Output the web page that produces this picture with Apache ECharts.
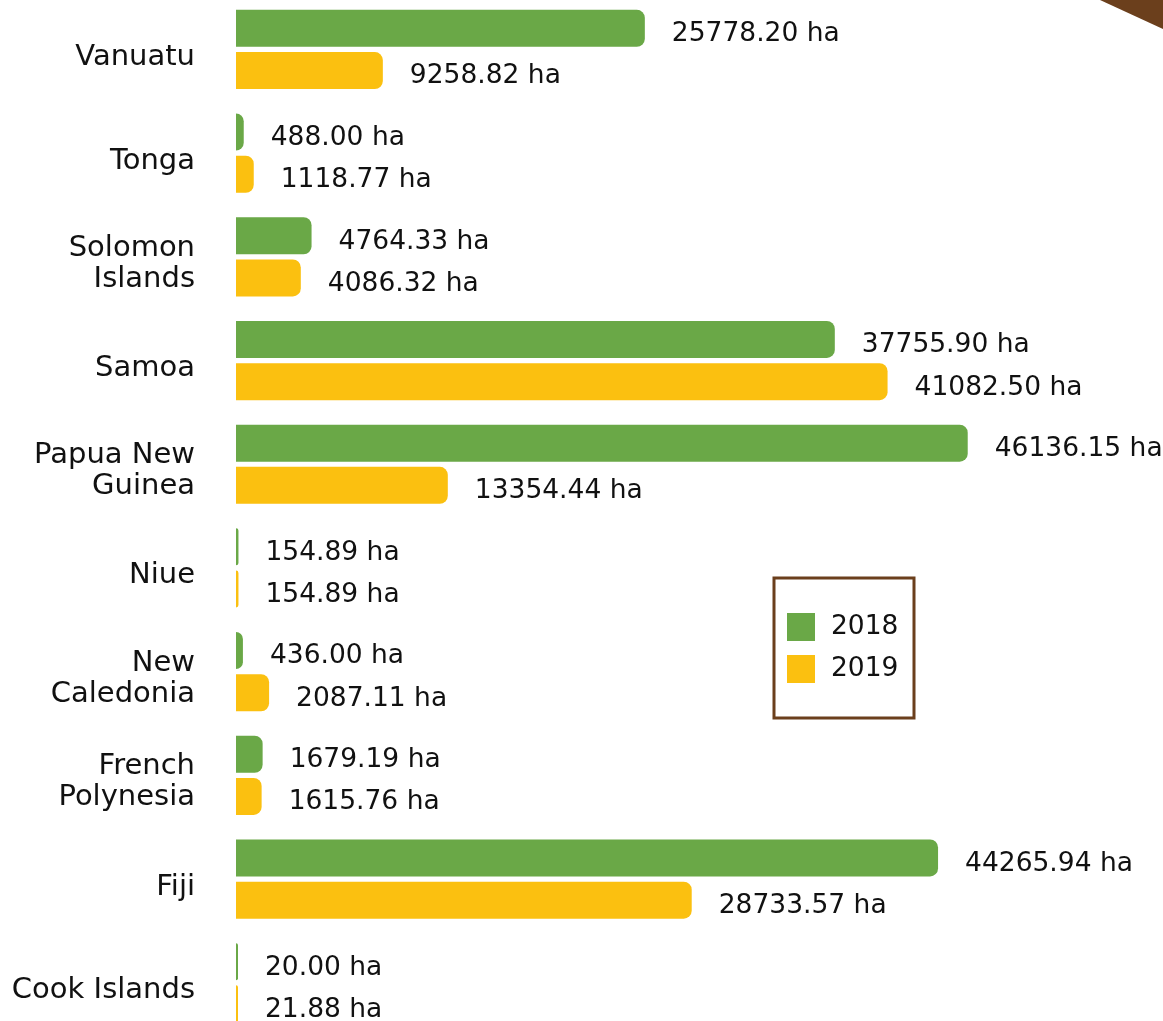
<!DOCTYPE html>
<html>
<head>
<meta charset="utf-8">
<script src="https://cdn.jsdelivr.net/npm/echarts@6/dist/echarts.min.js"></script>
<style>
  html, body { margin: 0; padding: 0; background: #fff; overflow: hidden; }
  #chart { width: 1163px; height: 1021px; }
</style>
</head>
<body>
<div id="chart"></div>
<script>
  // top to bottom
  var countries = ['Vanuatu', 'Tonga', 'Solomon\nIslands', 'Samoa', 'Papua New\nGuinea', 'Niue', 'New\nCaledonia', 'French\nPolynesia', 'Fiji', 'Cook Islands']
  var area2018 = [25778.20, 488.00, 4764.33, 37755.90, 46136.15, 154.89, 436.00, 1679.19, 44265.94, 20.00]
  var area2019 = [9258.82, 1118.77, 4086.32, 41082.50, 13354.44, 154.89, 2087.11, 1615.76, 28733.57, 21.88]
  var years = ['2018', '2019']

  var chart = echarts.init(document.getElementById('chart'))
  var font = '"DejaVu Sans", sans-serif'
  var barLabel = {
    show: true,
    position: 'right',
    distance: 27,
    offset: [0, 6],
    color: '#111',
    fontSize: 26.5,
    fontFamily: font,
    formatter: function (p) { return p.value.toFixed(2) + ' ha' }
  }
  var catText = { color: '#111', fontSize: 29, fontFamily: font }

  chart.setOption({
    animation: false,
    grid: {
      left: 236,
      top: -2.4,
      width: 793,
      height: 1037,
      outerBoundsMode: 'none'
    },
    legend: {
      data: years,
      orient: 'vertical',
      left: 787,
      top: 613,
      padding: 0,
      itemWidth: 28,
      itemHeight: 28,
      itemGap: 14,
      icon: 'rect',
      textStyle: {
        fontSize: 26.5,
        fontFamily: font,
        color: '#111',
        padding: [0, 0, 0, 11]
      }
    },
    xAxis: {
      type: 'value',
      min: 0,
      max: 50000,
      show: false
    },
    yAxis: {
      type: 'category',
      inverse: true,
      data: countries,
      axisLine: { show: false },
      axisTick: { show: false },
      axisLabel: {
        margin: 41,
        formatter: function (v) {
          var lines = v.split('\n')
          return lines.map(function (l, i) {
            return (i === 0 ? '{a|' : '{b|') + l + '}'
          }).join('\n')
        },
        rich: {
          a: Object.assign({ lineHeight: 45, verticalAlign: 'bottom' }, catText),
          b: Object.assign({ lineHeight: 33 }, catText)
        }
      }
    },
    graphic: [
      {
        type: 'rect',
        shape: { x: 774, y: 578, width: 140, height: 140 },
        style: { fill: 'none', stroke: '#6b3f1c', lineWidth: 3 },
        z: 1
      },
      {
        type: 'polygon',
        shape: { points: [[1100, 0], [1163, 0], [1163, 29]] },
        style: { fill: '#6b3f1c' }
      }
    ],
    series: [
      {
        name: '2018',
        type: 'bar',
        data: area2018,
        barWidth: 37,
        barGap: '14%',
        barMinHeight: 2,
        itemStyle: { color: '#6aa847', borderRadius: [0, 8, 8, 0] },
        label: barLabel
      },
      {
        name: '2019',
        type: 'bar',
        data: area2019,
        barWidth: 37,
        barGap: '14%',
        barMinHeight: 2,
        itemStyle: { color: '#fbc010', borderRadius: [0, 8, 8, 0] },
        label: barLabel
      }
    ]
  })
</script>
</body>
</html>
